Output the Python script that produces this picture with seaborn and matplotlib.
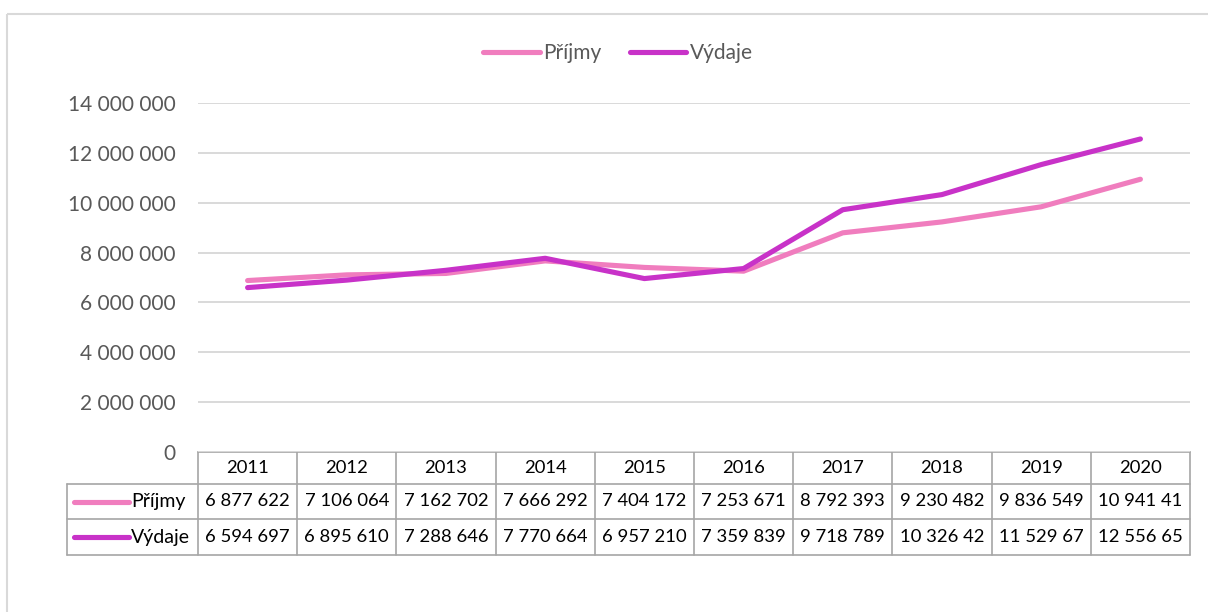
import numpy as np
import pandas as pd
import matplotlib
matplotlib.use("Agg")
import matplotlib.pyplot as plt
import seaborn as sns
from matplotlib.patches import Rectangle
from matplotlib.lines import Line2D

# ---------------- data ----------------
years = [2011, 2012, 2013, 2014, 2015, 2016, 2017, 2018, 2019, 2020]
prijmy = [6877622, 7106064, 7162702, 7666292, 7404172, 7253671, 8792393, 9230482, 9836549, 10941410]
vydaje = [6594697, 6895610, 7288646, 7770664, 6957210, 7359839, 9718789, 10326420, 11529670, 12556650]
series_names = ["Příjmy", "Výdaje"]
colors = {"Příjmy": "#F07DBE", "Výdaje": "#C832C8"}
yticks = [0, 2000000, 4000000, 6000000, 8000000, 10000000, 12000000, 14000000]

# ---------------- style ----------------
sns.set_theme(style="white")
plt.rcParams["font.family"] = ["Lato", "DejaVu Sans"]

W, H = 1208, 612
fig = plt.figure(figsize=(W / 100, H / 100), dpi=100)
fig.patch.set_facecolor("white")

# plot area (pixels: left 198, right 1190, top 103, bottom 452)
ax = fig.add_axes([198 / W, 1 - 452 / H, 992 / W, 349 / H])

df = pd.DataFrame({
    "pos": list(range(len(years))) * 2,
    "value": prijmy + vydaje,
    "series": [series_names[0]] * len(years) + [series_names[1]] * len(years),
})
sns.lineplot(data=df, x="pos", y="value", hue="series", palette=colors,
             linewidth=3.7, sort=False, legend=False, ax=ax,
             solid_capstyle="round", solid_joinstyle="round")

ax.set_xlim(-0.5, len(years) - 0.5)
ax.set_ylim(0, 14000000)
ax.set_yticks(yticks)
ax.set_yticklabels([f"{v:,}".replace(",", " ") for v in yticks])
ax.set_xticks([])
ax.set_xlabel("")
ax.set_ylabel("")
ax.tick_params(axis="y", length=0, pad=16, labelsize=15, labelcolor="#595959")
for s in ax.spines.values():
    s.set_visible(False)
ax.grid(axis="y", color="#D9D9D9", linewidth=1.4)
ax.grid(axis="x", visible=False)
ax.set_axisbelow(True)
ax.set_facecolor("none")

# legend on top
handles = [Line2D([0], [0], color=colors[n], lw=3.7, solid_capstyle="round") for n in series_names]
fig.legend(handles, series_names, loc="center", bbox_to_anchor=(618 / W, 1 - 53 / H),
           ncol=2, frameon=False, fontsize=15, handlelength=2.7, handletextpad=0.15,
           columnspacing=1.4, labelcolor="#595959")

# ---------------- data table ----------------
fig.canvas.draw()
ov = fig.add_axes([0, 0, 1, 1], zorder=-1)
ov.set_xlim(0, W)
ov.set_ylim(H, 0)
ov.axis("off")
ov.patch.set_alpha(0)

edges = [ax.transData.transform((i - 0.5, 0))[0] for i in range(len(years) + 1)]
left_x = 67
row_y = [452, 484, 519, 555]
bc = "#A6A6A6"
lw = 1.2

# horizontal lines
ov.plot([edges[0], edges[-1]], [row_y[0]] * 2, color=bc, lw=lw)
for y in row_y[1:]:
    ov.plot([left_x, edges[-1]], [y, y], color=bc, lw=lw)
# vertical lines
for x in edges:
    ov.plot([x, x], [row_y[0], row_y[3]], color=bc, lw=lw)
ov.plot([left_x, left_x], [row_y[1], row_y[3]], color=bc, lw=lw)

centers = [(edges[i] + edges[i + 1]) / 2 for i in range(len(years))]
fs = 13.3
for c, yr in zip(centers, years):
    ov.text(c, (row_y[0] + row_y[1]) / 2, str(yr), ha="center", va="center", fontsize=fs, color="black")
for r, (name, vals) in enumerate(zip(series_names, [prijmy, vydaje])):
    yc = (row_y[r + 1] + row_y[r + 2]) / 2
    for c, v in zip(centers, vals):
        ov.text(c, yc, f"{v:,}".replace(",", " ")[:9], ha="center", va="center",
                fontsize=fs, color="black")
    ov.plot([74, 129], [yc, yc], color=colors[name], lw=3.7, solid_capstyle="round")
    ov.text(131, yc, name, ha="left", va="center", fontsize=14, color="black")

# outer chart border
ov.add_patch(Rectangle((7, 14), 1215, 620, fill=False, edgecolor="#D9D9D9", lw=1.5))

fig.savefig("out.png", dpi=100, facecolor="white")
